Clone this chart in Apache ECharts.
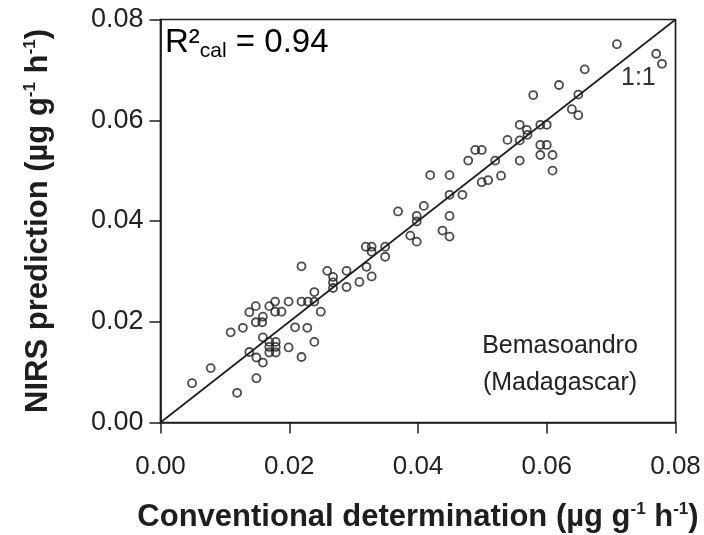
<!DOCTYPE html>
<html>
<head>
<meta charset="utf-8">
<script src="https://cdn.jsdelivr.net/npm/echarts@6/dist/echarts.min.js"></script>
<style>
  html, body { margin: 0; padding: 0; background: #fff; }
  #chart { width: 704px; height: 535px; }
</style>
</head>
<body>
<div id="chart"></div>
<script>
// Conventional determination vs NIRS prediction (µg g-1 h-1)
const conventional = [
  0.0049, 0.0078, 0.0119, 0.0109, 0.0128, 0.0138, 0.0148, 0.0148, 0.0158, 0.0159,
  0.0169, 0.0178, 0.0178, 0.0188, 0.0199, 0.0159, 0.0169, 0.0179, 0.0169, 0.0179,
  0.0169, 0.0179, 0.0138, 0.0149, 0.0159, 0.0149, 0.0199, 0.0209, 0.0228, 0.0219,
  0.0219, 0.0219, 0.0229, 0.0239, 0.0239, 0.0249, 0.0239, 0.0259, 0.0268, 0.0268,
  0.0268, 0.0289, 0.0289, 0.0309, 0.0320, 0.0328, 0.0319, 0.0328, 0.0328, 0.0349,
  0.0349, 0.0369, 0.0388, 0.0398, 0.0398, 0.0398, 0.0409, 0.0419, 0.0449, 0.0449,
  0.0469, 0.0449, 0.0438, 0.0449, 0.0478, 0.0489, 0.0499, 0.0499, 0.0509, 0.0520,
  0.0529, 0.0539, 0.0558, 0.0569, 0.0570, 0.0558, 0.0558, 0.0590, 0.0600, 0.0590,
  0.0600, 0.0590, 0.0609, 0.0609, 0.0579, 0.0619, 0.0649, 0.0639, 0.0649, 0.0659,
  0.0709, 0.0770, 0.0779
];
const nirs = [
  0.0078, 0.0108, 0.0059, 0.0179, 0.0188, 0.0219, 0.0231, 0.0199, 0.0199, 0.0210,
  0.0231, 0.0240, 0.0220, 0.0220, 0.0240, 0.0169, 0.0160, 0.0160, 0.0150, 0.0150,
  0.0139, 0.0139, 0.0140, 0.0129, 0.0119, 0.0088, 0.0149, 0.0189, 0.0188, 0.0130,
  0.0310, 0.0240, 0.0240, 0.0240, 0.0259, 0.0220, 0.0160, 0.0301, 0.0289, 0.0278,
  0.0267, 0.0301, 0.0269, 0.0279, 0.0309, 0.0290, 0.0349, 0.0349, 0.0339, 0.0349,
  0.0329, 0.0419, 0.0371, 0.0359, 0.0410, 0.0399, 0.0430, 0.0491, 0.0491, 0.0452,
  0.0452, 0.0410, 0.0381, 0.0369, 0.0520, 0.0541, 0.0541, 0.0477, 0.0481, 0.0520,
  0.0490, 0.0561, 0.0591, 0.0581, 0.0571, 0.0560, 0.0520, 0.0591, 0.0591, 0.0551,
  0.0551, 0.0531, 0.0531, 0.0500, 0.0650, 0.0670, 0.0651, 0.0622, 0.0610, 0.0701,
  0.0751, 0.0732, 0.0712
];
const tickValues = [0, 0.02, 0.04, 0.06, 0.08];
const oneToOne = [[0, 0], [0.08, 0.08]];

const points = conventional.map((x, i) => [x, nirs[i]]);

const ink = '#1e1e1e';
const family = '"Liberation Sans", Arial, sans-serif';

const supStyle = { fontSize: 17, fontWeight: 'bold', verticalAlign: 'top', fontFamily: family, color: ink };
const titleStyle = { fontSize: 31, fontWeight: 'bold', fontFamily: family, color: ink, lineHeight: 34 };

const chart = echarts.init(document.getElementById('chart'), null, { renderer: 'canvas' });

chart.setOption({
  animation: false,
  backgroundColor: '#fff',
  grid: {
    left: 160.5, right: 28.5, top: 19.5, bottom: 112.5,
    containLabel: false, outerBoundsMode: 'none',
    show: true, borderColor: ink, borderWidth: 1.7, backgroundColor: 'transparent'
  },
  xAxis: {
    type: 'value', min: 0, max: 0.08, interval: 0.02,
    name: '{t|Conventional determination (µg g}{s|-1}{t| h}{s|-1}{t|)}',
    nameLocation: 'middle', nameGap: 78,
    nameTextStyle: { rich: { t: titleStyle, s: supStyle } },
    axisLine: { show: true, lineStyle: { color: ink, width: 1.7 } },
    axisTick: { show: true, length: 11, lineStyle: { color: ink, width: 1.5 } },
    splitLine: { show: false },
    axisLabel: {
      margin: 31, fontSize: 26, color: '#222', fontFamily: family,
      formatter: v => v.toFixed(2)
    }
  },
  yAxis: {
    type: 'value', min: 0, max: 0.08, interval: 0.02,
    name: '{t|NIRS prediction (µg g}{s|-1}{t| h}{s|-1}{t|)}',
    nameLocation: 'middle', nameGap: 105, nameRotate: 90,
    nameTextStyle: { rich: { t: titleStyle, s: supStyle } },
    axisLine: { show: true, lineStyle: { color: ink, width: 1.7 } },
    axisTick: { show: true, length: 11, lineStyle: { color: ink, width: 1.5 } },
    splitLine: { show: false },
    axisLabel: {
      margin: 17, fontSize: 27, color: '#222', fontFamily: family,
      formatter: v => v.toFixed(2)
    }
  },
  series: [
    {
      type: 'line',
      data: oneToOne,
      symbol: 'none',
      lineStyle: { color: ink, width: 1.7 },
      silent: true,
      z: 2
    },
    {
      type: 'scatter',
      data: points,
      symbol: 'circle',
      symbolSize: 8,
      itemStyle: { color: 'rgba(255,255,255,0)', borderColor: ink, borderWidth: 1.8 },
      z: 3
    }
  ],
  graphic: [
    {
      type: 'text', left: 165, top: 26,
      style: {
        text: '{r|R}{p|²}{b|cal}{r| = 0.94}',
        rich: {
          r: { fontSize: 33, fontFamily: family, color: ink, lineHeight: 38 },
          p: { fontSize: 33, fontFamily: family, color: ink, lineHeight: 38 },
          b: { fontSize: 21, fontFamily: family, color: ink, verticalAlign: 'bottom', lineHeight: 20 }
        }
      }
    },
    {
      type: 'text', left: 621, top: 66,
      style: { text: '1:1', fontSize: 25, fontFamily: family, fill: '#333' }
    },
    {
      type: 'text', x: 560, y: 346,
      style: { text: 'Bemasoandro', fontSize: 25, fontFamily: family, fill: '#222', align: 'center', verticalAlign: 'middle' }
    },
    {
      type: 'text', x: 560, y: 383,
      style: { text: '(Madagascar)', fontSize: 25, fontFamily: family, fill: '#222', align: 'center', verticalAlign: 'middle' }
    }
  ]
});
</script>
</body>
</html>
